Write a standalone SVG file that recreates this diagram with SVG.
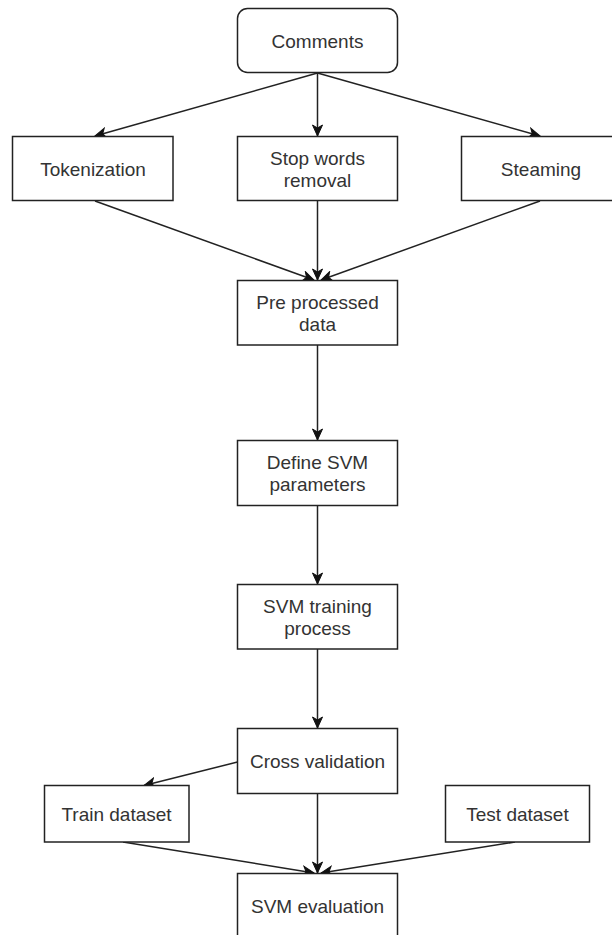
<svg xmlns="http://www.w3.org/2000/svg" width="612" height="935" viewBox="0 0 612 935">
<style>
.box{fill:#ffffff;stroke:#222222;stroke-width:1.5}
.lbl{font-family:"Liberation Sans",Arial,sans-serif;font-size:19px;fill:#333333;text-anchor:middle}
.edge{fill:none;stroke:#222222;stroke-width:1.5}
</style>
<defs>
<marker id="arr" markerUnits="userSpaceOnUse" markerWidth="14" markerHeight="12" viewBox="-12 -6 14 12" refX="0" refY="0" orient="auto">
<path d="M0,0 L-11,-5 L-8,0 L-11,5 Z" fill="#111111" stroke="#111111" stroke-width="1"/>
</marker>
</defs>
<rect width="612" height="935" fill="#ffffff"/>
<g id="connectors">
<line class="edge" x1="317.5" y1="73" x2="95" y2="136" marker-end="url(#arr)"/>
<line class="edge" x1="317.5" y1="73" x2="317.5" y2="136" marker-end="url(#arr)"/>
<line class="edge" x1="317.5" y1="73" x2="540" y2="136" marker-end="url(#arr)"/>
<line class="edge" x1="95" y1="201" x2="314" y2="280" marker-end="url(#arr)"/>
<line class="edge" x1="317.5" y1="201" x2="317.5" y2="280" marker-end="url(#arr)"/>
<line class="edge" x1="540" y1="201" x2="321" y2="280" marker-end="url(#arr)"/>
<line class="edge" x1="317.5" y1="345" x2="317.5" y2="440" marker-end="url(#arr)"/>
<line class="edge" x1="317.5" y1="506" x2="317.5" y2="584" marker-end="url(#arr)"/>
<line class="edge" x1="317.5" y1="649" x2="317.5" y2="728" marker-end="url(#arr)"/>
<line class="edge" x1="237.5" y1="762" x2="144" y2="785.5" marker-end="url(#arr)"/>
<line class="edge" x1="317.5" y1="794" x2="317.5" y2="873" marker-end="url(#arr)"/>
<line class="edge" x1="123" y1="842" x2="314" y2="873" marker-end="url(#arr)"/>
<line class="edge" x1="515" y1="842" x2="321" y2="873" marker-end="url(#arr)"/>
</g>
<g id="comments">
<rect class="box" x="237.5" y="8.5" width="160" height="64" rx="10" ry="10"/>
<text class="lbl" x="317.5" y="48">Comments</text>
</g>
<g id="tokenization">
<rect class="box" x="12.5" y="136.5" width="160.5" height="64"/>
<text class="lbl" x="93" y="176">Tokenization</text>
</g>
<g id="stopwords">
<rect class="box" x="237.5" y="136.5" width="160" height="64"/>
<text class="lbl" x="317.5" y="165">Stop words</text>
<text class="lbl" x="317.5" y="187">removal</text>
</g>
<g id="steaming">
<rect class="box" x="461.5" y="136.5" width="160" height="64"/>
<text class="lbl" x="541" y="176">Steaming</text>
</g>
<g id="preprocessed">
<rect class="box" x="237.5" y="280.5" width="160" height="64.5"/>
<text class="lbl" x="317.5" y="309">Pre processed</text>
<text class="lbl" x="317.5" y="331">data</text>
</g>
<g id="definesvm">
<rect class="box" x="237.5" y="440.5" width="160" height="65"/>
<text class="lbl" x="317.5" y="469">Define SVM</text>
<text class="lbl" x="317.5" y="491">parameters</text>
</g>
<g id="svmtraining">
<rect class="box" x="237.5" y="584.5" width="160" height="64.5"/>
<text class="lbl" x="317.5" y="613">SVM training</text>
<text class="lbl" x="317.5" y="635">process</text>
</g>
<g id="crossvalidation">
<rect class="box" x="237.5" y="728.5" width="160" height="65"/>
<text class="lbl" x="317.5" y="768">Cross validation</text>
</g>
<g id="traindataset">
<rect class="box" x="44.5" y="785.5" width="144.5" height="56.5"/>
<text class="lbl" x="116.5" y="821">Train dataset</text>
</g>
<g id="testdataset">
<rect class="box" x="445.5" y="785.5" width="144" height="56.5"/>
<text class="lbl" x="517.5" y="821">Test dataset</text>
</g>
<g id="svmevaluation">
<rect class="box" x="237.5" y="873.5" width="160" height="65"/>
<text class="lbl" x="317.5" y="913">SVM evaluation</text>
</g>
</svg>
